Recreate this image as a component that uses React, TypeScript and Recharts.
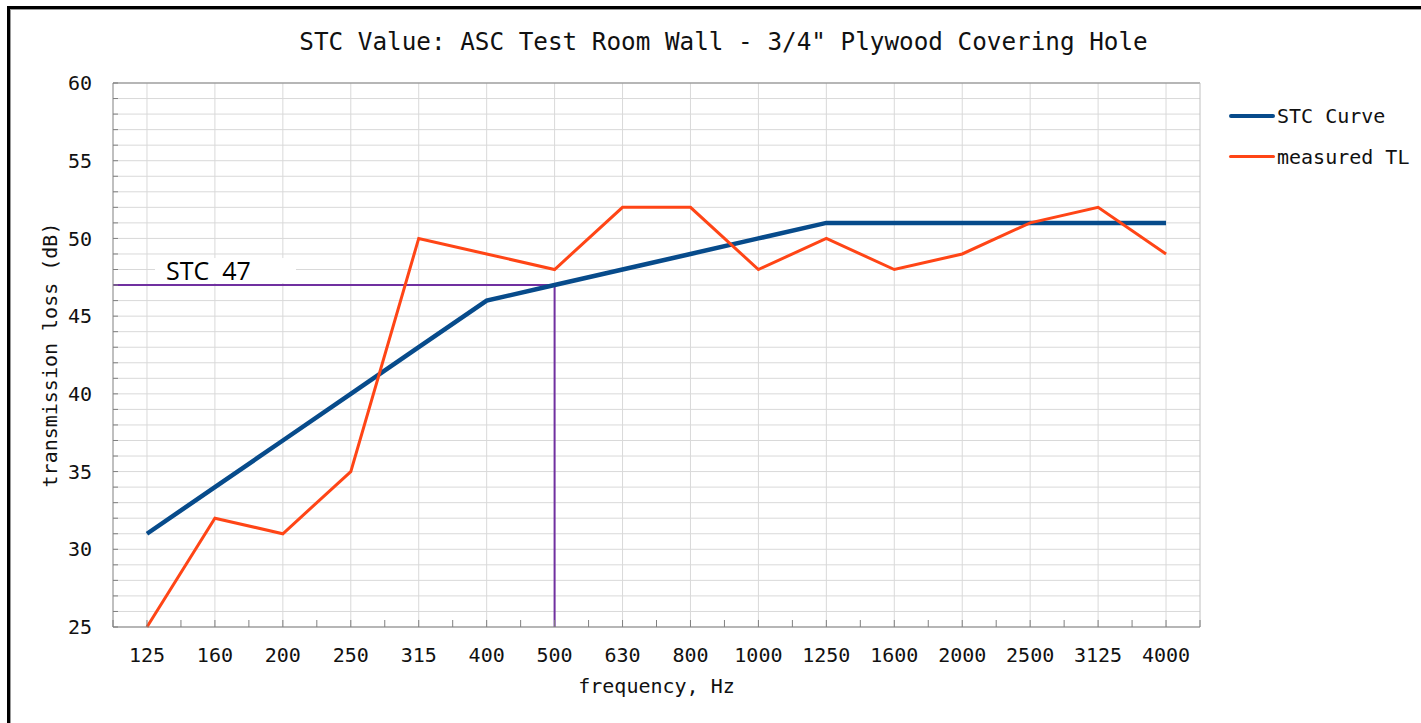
import { LineChart, Line, XAxis, YAxis, CartesianGrid, ReferenceLine, Legend, Label } from "recharts";

const frequencies = ["125", "160", "200", "250", "315", "400", "500", "630", "800", "1000", "1250", "1600", "2000", "2500", "3125", "4000"];
const stcCurve = [31, 34, 37, 40, 43, 46, 47, 48, 49, 50, 51, 51, 51, 51, 51, 51];
const measuredTL = [25, 32, 31, 35, 50, 49, 48, 52, 52, 48, 50, 48, 49, 51, 52, 49];

const stcRating = 47;
const stcFrequency = "500";
const yMin = 25;
const yMax = 60;
const yLabelStep = 5;

const title = 'STC Value: ASC Test Room Wall - 3/4" Plywood Covering Hole';

const mono = "'DejaVu Sans Mono', monospace";
const blue = "#074b8b";
const orange = "#ff4516";
const purple = "#7030a0";
const gridColor = "#d9d9d9";
const axisColor = "#808080";

const data = frequencies.map((freq, idx) => ({
  idx,
  freq,
  stc: stcCurve[idx],
  tl: measuredTL[idx],
}));

// minor ticks every half band on x, every 1 dB on y
const xTicks = Array.from({ length: frequencies.length * 2 + 1 }, (_, k) => k / 2 - 0.5);
const yTicks = Array.from({ length: yMax - yMin + 1 }, (_, k) => yMin + k);
const stcIdx = frequencies.indexOf(stcFrequency);

function StcLabel({ viewBox }: any) {
  const { x, y } = viewBox;
  return (
    <g>
      <rect x={x + 42} y={y - 27} width={141} height={25} fill="#fff" />
      <text
        x={x + 53}
        y={y - 5}
        fontFamily="'Open Sans', sans-serif"
        fontSize={25}
        fill="#000"
        xmlSpace="preserve"
        style={{ whiteSpace: "pre" }}
      >
        {`STC  ${stcRating}`}
      </text>
    </g>
  );
}

function LegendContent({ payload }: any) {
  return (
    <div style={{ fontFamily: mono, fontSize: 20, color: "#111" }}>
      {(payload || []).map((entry: any) => (
        <div key={entry.value} style={{ display: "flex", alignItems: "center", height: 41 }}>
          <div
            style={{
              width: 46,
              height: entry.dataKey === "stc" ? 4 : 3,
              background: entry.color,
              borderRadius: 2,
            }}
          />
          <span style={{ marginLeft: 2 }}>{entry.value}</span>
        </div>
      ))}
    </div>
  );
}

export default function App() {
  return (
    <div style={{ position: "fixed", left: 0, top: 0, width: 1421, height: 723, overflow: "hidden", background: "#fff" }}>
      <div
        style={{
          position: "absolute",
          left: 7,
          top: 6,
          width: 1480,
          height: 780,
          border: "3px solid #000",
          boxShadow: "inset 1px 1px 0 #999",
        }}
      />
      <div
        style={{
          position: "absolute",
          left: 0,
          top: 30,
          width: 1447,
          textAlign: "center",
          fontFamily: mono,
          fontSize: 24.3,
          lineHeight: "24px",
          color: "#111",
          whiteSpace: "pre",
        }}
      >
        {title}
      </div>
      <div style={{ position: "absolute", left: 0, top: 0 }}>
        <LineChart width={1421} height={723} data={data} margin={{ top: 83, right: 221, left: 0, bottom: 0 }}>
          <CartesianGrid vertical={false} stroke={gridColor} />
          {frequencies.map((f, i) => (
            <ReferenceLine key={f} x={i} stroke={gridColor} />
          ))}
          <ReferenceLine y={yMax} stroke={axisColor} />
          <ReferenceLine x={frequencies.length - 0.5} stroke="#c0c0c0" />
          <XAxis
            dataKey="idx"
            type="number"
            domain={[-0.5, frequencies.length - 0.5]}
            ticks={xTicks}
            interval={0}
            height={96}
            tickSize={-7}
            tickMargin={28}
            axisLine={{ stroke: axisColor }}
            tickLine={{ stroke: axisColor }}
            tick={{ fill: "#111", fontSize: 20, fontFamily: mono }}
            tickFormatter={(v: number) => (Number.isInteger(v) ? frequencies[v] : "")}
          >
            <Label value="frequency, Hz" position="insideTop" offset={52} fill="#111" fontSize={20} fontFamily={mono} />
          </XAxis>
          <YAxis
            type="number"
            domain={[yMin, yMax]}
            ticks={yTicks}
            interval={0}
            width={113}
            tickSize={-5}
            tickMargin={26}
            axisLine={{ stroke: axisColor }}
            tickLine={{ stroke: axisColor }}
            tick={{ fill: "#111", fontSize: 20, fontFamily: mono }}
            tickFormatter={(v: number) => (v % yLabelStep === 0 ? String(v) : "")}
          >
            <Label
              value="transmission loss (dB)"
              angle={-90}
              position="insideLeft"
              offset={50}
              fill="#111"
              fontSize={20}
              fontFamily={mono}
              style={{ textAnchor: "middle" }}
            />
          </YAxis>
          <ReferenceLine
            segment={[
              { x: -0.5, y: stcRating },
              { x: stcIdx, y: stcRating },
            ]}
            stroke={purple}
            strokeWidth={2}
            label={<StcLabel />}
          />
          <ReferenceLine
            segment={[
              { x: stcIdx, y: yMin },
              { x: stcIdx, y: stcRating },
            ]}
            stroke={purple}
            strokeWidth={2}
          />
          <Line
            type="linear"
            dataKey="stc"
            name="STC Curve"
            stroke={blue}
            strokeWidth={4.5}
            dot={false}
            activeDot={false}
            isAnimationActive={false}
          />
          <Line
            type="linear"
            dataKey="tl"
            name="measured TL"
            stroke={orange}
            strokeWidth={3}
            dot={false}
            activeDot={false}
            isAnimationActive={false}
          />
          <Legend
            layout="vertical"
            align="center"
            verticalAlign="middle"
            content={<LegendContent />}
            wrapperStyle={{ left: 1229, top: 95, width: 190 }}
          />
        </LineChart>
      </div>
    </div>
  );
}
